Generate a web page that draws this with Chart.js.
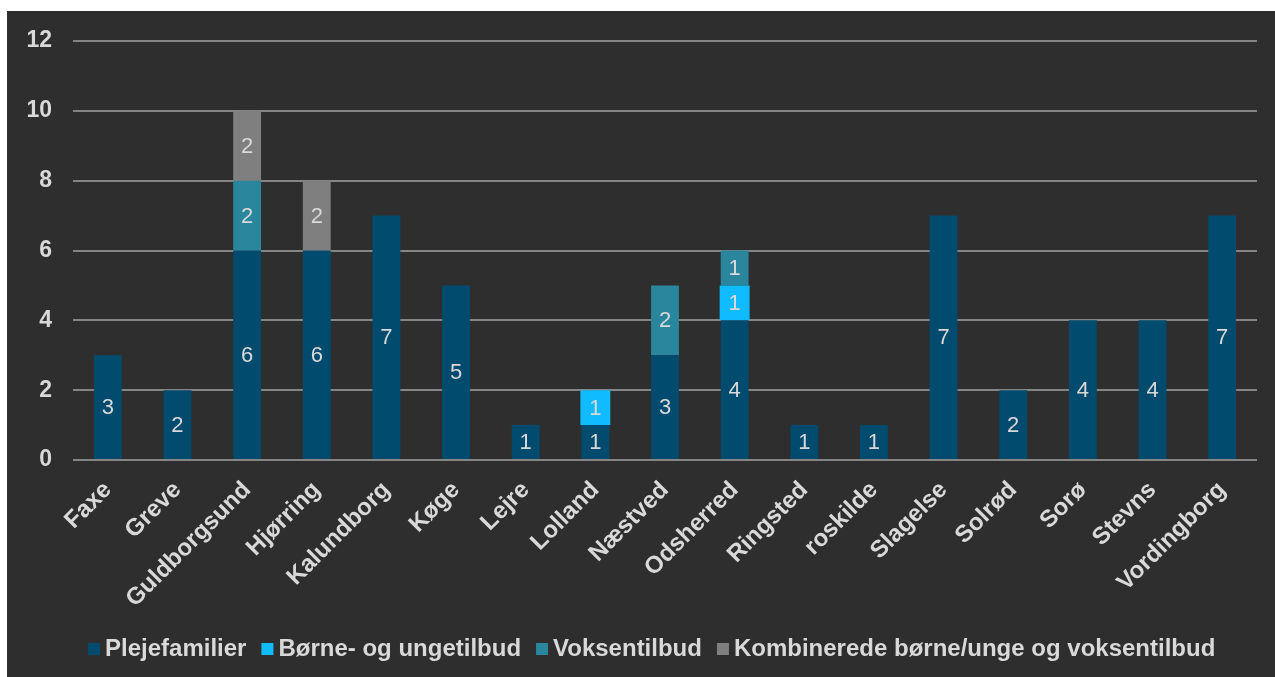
<!DOCTYPE html>
<html>
<head>
<meta charset="utf-8">
<script src="https://cdn.jsdelivr.net/npm/chart.js@4"></script>
<style>
  html, body { margin: 0; padding: 0; background: #ffffff; }
  #wrap { position: absolute; left: 7px; top: 11px; width: 1268px; height: 666px; background: #2e2e2e; }
</style>
</head>
<body>
<div id="wrap"><canvas id="chart"></canvas></div>
<script>
// data
const kommuner = ["Faxe", "Greve", "Guldborgsund", "Hjørring", "Kalundborg", "Køge", "Lejre", "Lolland",
  "Næstved", "Odsherred", "Ringsted", "roskilde", "Slagelse", "Solrød", "Sorø", "Stevns", "Vordingborg"];
const plejefamilier = [3, 2, 6, 6, 7, 5, 1, 1, 3, 4, 1, 1, 7, 2, 4, 4, 7];
const borneUnge = [0, 0, 0, 0, 0, 0, 0, 1, 0, 1, 0, 0, 0, 0, 0, 0, 0];
const voksen = [0, 0, 2, 0, 0, 0, 0, 0, 2, 1, 0, 0, 0, 0, 0, 0, 0];
const kombineret = [0, 0, 2, 2, 0, 0, 0, 0, 0, 0, 0, 0, 0, 0, 0, 0, 0];
const yTicks = [0, 2, 4, 6, 8, 10, 12];

const textColor = "#d9d9d9";
const fontFam = "Arial, 'Liberation Sans', sans-serif";

// value labels in the middle of each segment
const segmentLabels = {
  id: "segmentLabels",
  afterDatasetsDraw(chart) {
    const ctx = chart.ctx;
    ctx.save();
    ctx.font = "22px " + fontFam;
    ctx.fillStyle = textColor;
    ctx.textAlign = "center";
    ctx.textBaseline = "middle";
    chart.data.datasets.forEach(function (ds, i) {
      const meta = chart.getDatasetMeta(i);
      meta.data.forEach(function (bar, j) {
        const v = ds.data[j];
        if (!v) return;
        ctx.fillText(String(v), bar.x, (bar.y + bar.base) / 2 + 1);
      });
    });
    ctx.restore();
  }
};

// legend row at the bottom, tighter than the built-in one
const bottomLegend = {
  id: "bottomLegend",
  afterDraw(chart) {
    const ctx = chart.ctx;
    ctx.save();
    ctx.font = "bold 24px " + fontFam;
    ctx.textBaseline = "middle";
    ctx.textAlign = "left";
    let x = 81;
    const y = 638;
    chart.data.datasets.forEach(function (ds) {
      ctx.fillStyle = ds.backgroundColor;
      ctx.fillRect(x, y - 6, 12, 12);
      x += 12 + 5;
      ctx.fillStyle = textColor;
      ctx.fillText(ds.label, x, y);
      x += ctx.measureText(ds.label).width + 15;
    });
    ctx.restore();
  }
};

new Chart(document.getElementById("chart"), {
  type: "bar",
  data: {
    labels: kommuner,
    datasets: [
      { label: "Plejefamilier", data: plejefamilier, backgroundColor: "#004b6e" },
      { label: "Børne- og ungetilbud", data: borneUnge, backgroundColor: "#10bcff", barPercentage: 0.43 },
      { label: "Voksentilbud", data: voksen, backgroundColor: "#2a869c" },
      { label: "Kombinerede børne/unge og voksentilbud", data: kombineret, backgroundColor: "#7f7f7f" }
    ]
  },
  plugins: [segmentLabels, bottomLegend],
  options: {
    responsive: true,
    maintainAspectRatio: false,
    animation: false,
    categoryPercentage: 1,
    barPercentage: 0.4,
    layout: { padding: { top: 30, right: 18, bottom: 0, left: 0 } },
    plugins: {
      tooltip: { enabled: false },
      legend: { display: false }
    },
    scales: {
      x: {
        stacked: true,
        grid: { display: false },
        border: { display: false },
        afterFit(scale) { scale.height = 217; },
        ticks: {
          color: textColor,
          maxRotation: 45,
          minRotation: 45,
          padding: 8,
          font: { family: fontFam, size: 24, weight: "bold" }
        }
      },
      y: {
        stacked: true,
        min: 0,
        max: 12,
        afterBuildTicks(scale) { scale.ticks = yTicks.map(v => ({ value: v })); },
        afterFit(scale) {
          scale.width = 66;
          scale.paddingTop = 0;
          scale.paddingBottom = 0;
        },
        grid: { color: "#858585", lineWidth: 2, drawTicks: false },
        border: { display: false },
        ticks: {
          color: textColor,
          padding: 21,
          font: { family: fontFam, size: 23, weight: "bold" }
        }
      }
    }
  }
});
</script>
</body>
</html>
